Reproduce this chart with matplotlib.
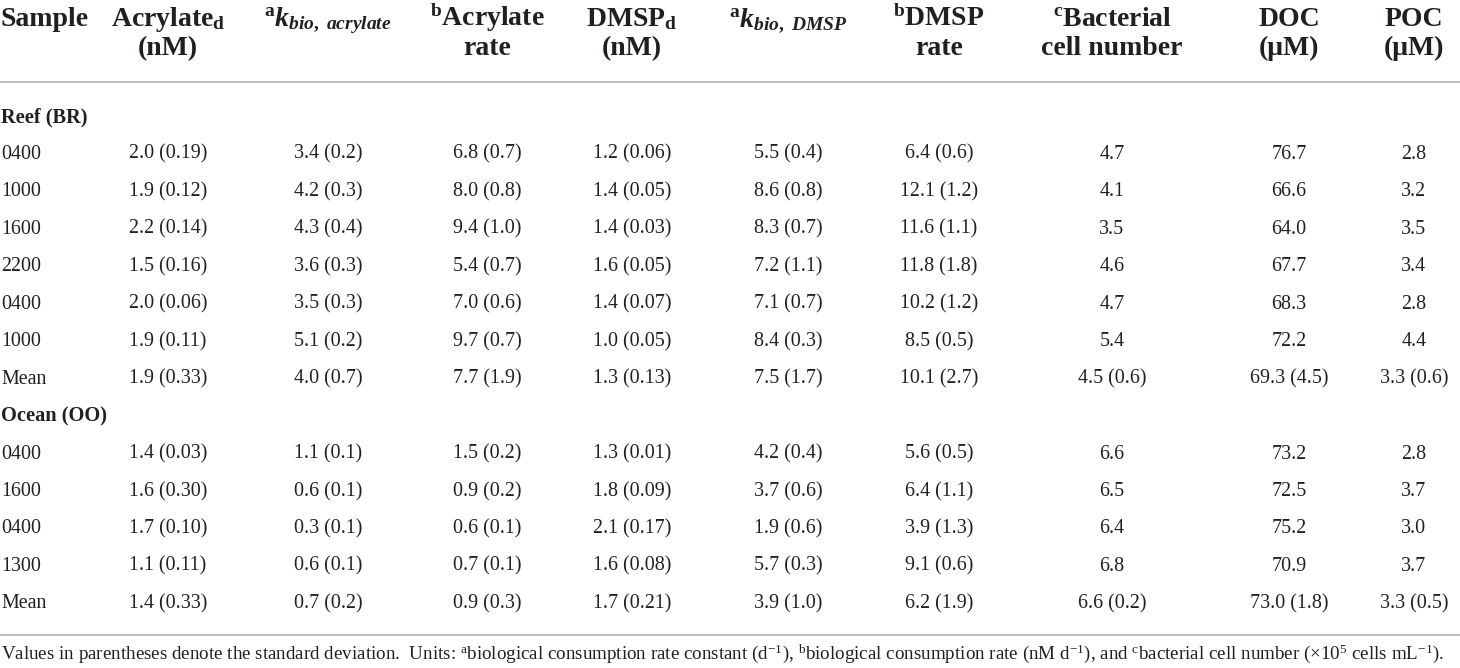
import matplotlib
matplotlib.use("Agg")
import matplotlib.pyplot as plt

plt.rcParams['font.family'] = ['Liberation Serif', 'DejaVu Serif']
plt.rcParams['mathtext.fontset'] = 'custom'
plt.rcParams['mathtext.rm'] = 'Liberation Serif:bold'
plt.rcParams['mathtext.it'] = 'Liberation Serif:italic:bold'
plt.rcParams['mathtext.bf'] = 'Liberation Serif:bold'

# ---------------- data ----------------
header_line1 = ["Sample", r"Acrylate$_{\mathregular{d}}$", r"${}^{\mathregular{a}}k_{bio,\ acrylate}$",
                r"${}^{\mathregular{b}}$Acrylate", r"DMSP$_{\mathregular{d}}$", r"${}^{\mathregular{a}}k_{bio,\ DMSP}$",
                r"${}^{\mathregular{b}}$DMSP", r"${}^{\mathregular{c}}$Bacterial", "DOC", "POC"]
header_line2 = ["", "(nM)", "", "rate", "(nM)", "", "rate", "cell number", "(μM)", "(μM)"]

group_names = ["Reef (BR)", "Ocean (OO)"]

reef_sample = ["0400", "1000", "1600", "2200", "0400", "1000", "Mean"]
reef_acrylate_d = ["2.0 (0.19)", "1.9 (0.12)", "2.2 (0.14)", "1.5 (0.16)", "2.0 (0.06)", "1.9 (0.11)", "1.9 (0.33)"]
reef_k_acrylate = ["3.4 (0.2)", "4.2 (0.3)", "4.3 (0.4)", "3.6 (0.3)", "3.5 (0.3)", "5.1 (0.2)", "4.0 (0.7)"]
reef_acrylate_rate = ["6.8 (0.7)", "8.0 (0.8)", "9.4 (1.0)", "5.4 (0.7)", "7.0 (0.6)", "9.7 (0.7)", "7.7 (1.9)"]
reef_dmsp_d = ["1.2 (0.06)", "1.4 (0.05)", "1.4 (0.03)", "1.6 (0.05)", "1.4 (0.07)", "1.0 (0.05)", "1.3 (0.13)"]
reef_k_dmsp = ["5.5 (0.4)", "8.6 (0.8)", "8.3 (0.7)", "7.2 (1.1)", "7.1 (0.7)", "8.4 (0.3)", "7.5 (1.7)"]
reef_dmsp_rate = ["6.4 (0.6)", "12.1 (1.2)", "11.6 (1.1)", "11.8 (1.8)", "10.2 (1.2)", "8.5 (0.5)", "10.1 (2.7)"]
reef_cells = ["4.7", "4.1", "3.5", "4.6", "4.7", "5.4", "4.5 (0.6)"]
reef_doc = ["76.7", "66.6", "64.0", "67.7", "68.3", "72.2", "69.3 (4.5)"]
reef_poc = ["2.8", "3.2", "3.5", "3.4", "2.8", "4.4", "3.3 (0.6)"]

ocean_sample = ["0400", "1600", "0400", "1300", "Mean"]
ocean_acrylate_d = ["1.4 (0.03)", "1.6 (0.30)", "1.7 (0.10)", "1.1 (0.11)", "1.4 (0.33)"]
ocean_k_acrylate = ["1.1 (0.1)", "0.6 (0.1)", "0.3 (0.1)", "0.6 (0.1)", "0.7 (0.2)"]
ocean_acrylate_rate = ["1.5 (0.2)", "0.9 (0.2)", "0.6 (0.1)", "0.7 (0.1)", "0.9 (0.3)"]
ocean_dmsp_d = ["1.3 (0.01)", "1.8 (0.09)", "2.1 (0.17)", "1.6 (0.08)", "1.7 (0.21)"]
ocean_k_dmsp = ["4.2 (0.4)", "3.7 (0.6)", "1.9 (0.6)", "5.7 (0.3)", "3.9 (1.0)"]
ocean_dmsp_rate = ["5.6 (0.5)", "6.4 (1.1)", "3.9 (1.3)", "9.1 (0.6)", "6.2 (1.9)"]
ocean_cells = ["6.6", "6.5", "6.4", "6.8", "6.6 (0.2)"]
ocean_doc = ["73.2", "72.5", "75.2", "70.9", "73.0 (1.8)"]
ocean_poc = ["2.8", "3.7", "3.0", "3.7", "3.3 (0.5)"]

footnote = (r"Values in parentheses denote the standard deviation.  Units: ${}^{\mathregular{a}}$biological consumption "
            r"rate constant (d$^{\mathregular{-1}}$), ${}^{\mathregular{b}}$biological consumption rate (nM d$^{\mathregular{-1}}$), "
            r"and ${}^{\mathregular{c}}$bacterial cell number (×10$^{\mathregular{5}}$ cells mL$^{\mathregular{-1}}$).")

# ---------------- layout ----------------
W, H = 1460, 668
fig = plt.figure(figsize=(W / 100, H / 100), dpi=100)
ax = fig.add_axes([0, 0, 1, 1])
ax.set_xlim(0, W)
ax.set_ylim(H, 0)
ax.axis("off")

TXT = "#231f20"
LINE = "#b0b0b0"
col_x = [1, 168, 328, 487, 632, 788, 939, 1112, 1289, 1414]
hdr_size = 20
data_size = 14.4

for i, (h1, h2) in enumerate(zip(header_line1, header_line2)):
    ha = "left" if i == 0 else "center"
    ax.text(col_x[i], 26, h1, ha=ha, va="baseline", fontsize=hdr_size, fontweight="bold", color=TXT)
    if h2:
        ax.text(col_x[i], 55, h2, ha=ha, va="baseline", fontsize=hdr_size, fontweight="bold", color=TXT)

ax.plot([0, W], [82, 82], color=LINE, lw=1.2, solid_capstyle="butt")
ax.plot([0, W], [635, 635], color=LINE, lw=1.2, solid_capstyle="butt")

groups = [
    (group_names[0], [reef_sample, reef_acrylate_d, reef_k_acrylate, reef_acrylate_rate, reef_dmsp_d,
                      reef_k_dmsp, reef_dmsp_rate, reef_cells, reef_doc, reef_poc]),
    (group_names[1], [ocean_sample, ocean_acrylate_d, ocean_k_acrylate, ocean_acrylate_rate, ocean_dmsp_d,
                      ocean_k_dmsp, ocean_dmsp_rate, ocean_cells, ocean_doc, ocean_poc]),
]

step = 37.45
y = 115.0
for gname, cols in groups:
    ax.text(col_x[0], y + 7, gname, ha="left", va="baseline", fontsize=data_size + 0.3,
            fontweight="bold", color=TXT)
    y += step
    for r in range(len(cols[0])):
        for c, col in enumerate(cols):
            ha = "left" if c == 0 else "center"
            ax.text(col_x[c], y + 6.5, col[r], ha=ha, va="baseline", fontsize=data_size, color=TXT)
        y += step

ax.text(1, 659, footnote, ha="left", va="baseline", fontsize=13.7, color=TXT)

fig.savefig("out.png", dpi=100, facecolor="white")
